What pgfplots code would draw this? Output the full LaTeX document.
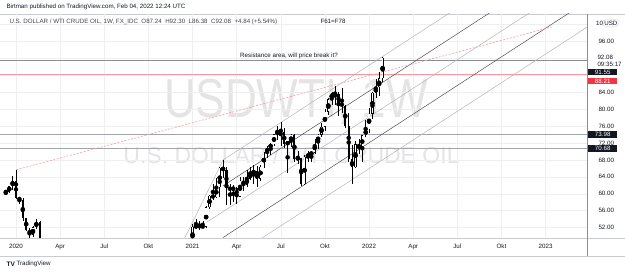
\documentclass[border=0pt]{standalone}
\usepackage{graphicx}
\usepackage{pgfplots}
\pgfplotsset{compat=1.18}
\usepackage{pgfplotstable}
\usepackage{fontspec}
\setmainfont{Liberation Sans}

\definecolor{tvgrid}{HTML}{EFEFEF}
\definecolor{tvborder}{HTML}{C8CBD3}
\definecolor{tvtext}{HTML}{131722}
\definecolor{tvred}{HTML}{F23645}
\definecolor{lvlred}{HTML}{F49AA2}
\definecolor{lvlgrey}{HTML}{8A8D95}
\definecolor{chlight}{HTML}{B4B4B4}
\definecolor{chdark}{HTML}{505050}
\definecolor{wmark}{HTML}{E4E4E4}

% weekly candles, n = week index (0 = week of 6 Jan 2020)
\pgfplotstableread{
n o h l c
-3 60.07 61.00 59.90 60.44
-2 60.44 61.90 60.30 61.72
-1 61.72 64.09 60.90 63.05
0 63.05 65.65 58.80 59.04
1 59.04 59.30 57.70 58.54
2 58.54 58.90 53.50 54.19
3 54.19 54.30 51.30 51.56
4 51.56 52.00 49.31 50.32
5 50.32 52.30 49.70 52.05
6 52.05 54.00 51.70 53.38
7 53.38 53.60 44.00 44.76
52 48.40 52.75 47.18 52.24
53 52.24 53.93 51.78 52.36
54 52.36 53.60 51.44 52.27
55 52.27 53.50 51.85 52.20
56 52.20 57.00 51.90 56.85
57 56.85 59.80 56.50 59.47
58 59.47 62.26 58.60 59.24
59 59.24 63.80 59.10 61.50
60 61.50 66.40 59.20 66.09
61 66.09 67.98 63.80 65.61
62 65.61 66.40 57.30 61.42
63 61.42 62.30 57.30 60.97
64 60.97 62.00 58.00 61.45
65 61.45 61.70 57.60 59.32
66 59.32 64.00 59.30 63.13
67 63.13 63.90 60.70 62.14
68 62.14 65.50 61.50 63.58
69 63.58 66.40 63.20 64.90
70 64.90 66.70 62.40 65.37
71 65.37 66.50 61.60 63.58
72 63.58 66.80 62.90 66.32
73 66.32 69.80 66.00 69.62
74 69.62 71.20 68.50 70.91
75 70.91 72.00 69.20 71.64
76 71.64 74.20 71.30 74.05
77 74.05 76.00 72.60 75.16
78 75.16 76.98 71.20 74.56
79 74.56 75.50 70.80 71.81
80 71.81 72.20 65.00 72.07
81 72.07 74.00 71.00 73.95
82 73.95 74.20 67.60 68.28
83 68.28 70.00 67.00 68.44
84 68.44 68.50 61.74 62.32
85 62.32 69.20 62.00 68.74
86 68.74 70.00 67.60 69.29
87 69.29 70.00 67.50 69.72
88 69.72 73.00 69.50 71.97
89 71.97 74.20 70.50 73.98
90 73.98 76.70 73.50 75.88
91 75.88 80.10 74.90 79.35
92 79.35 82.50 78.60 82.28
93 82.28 84.00 81.00 83.76
94 83.76 85.41 81.00 83.57
95 83.57 84.00 78.30 81.27
96 81.27 84.90 79.00 80.79
97 80.79 81.00 75.50 76.10
98 76.10 79.00 67.40 68.15
99 68.15 71.60 62.40 66.26
100 66.26 72.50 66.20 71.67
101 71.67 72.90 69.30 70.86
102 70.86 73.90 67.60 73.79
103 73.79 77.30 73.30 75.21
104 75.21 80.20 74.30 78.90
105 78.90 84.00 77.60 83.82
106 83.82 87.00 82.70 85.14
107 85.14 88.80 83.00 87.24
108 87.24 92.30 86.38 92.08
}\ohlc

% candle pieces: a body is parked at 0 (outside the pane) when it belongs to the other kind
\pgfplotsset{
  candlepart/.style={only marks, mark=none, forget plot,
    error bars/.cd, y dir=both, y explicit, error mark=none,
    error bar style={line cap=butt, #1}},
}

\begin{document}
\begin{tikzpicture}[font=\fontsize{6.2}{7}\selectfont]
\useasboundingbox (0,0) rectangle (625pt,271pt);

% symbol watermark behind the pane
\node[text=wmark, font=\fontsize{55}{56}\selectfont] at (296pt,169pt) {\scalebox{0.8}[1]{USDWTI, 1W}};
\node[text=wmark, font=\fontsize{23}{24}\selectfont] at (291.5pt,116pt) {U.S. DOLLAR / WTI CRUDE OIL};

% pane frame and scale separators
\draw[tvborder, line width=0.5pt] (0,257pt) -- (625pt,257pt);
\draw[tvborder, line width=0.6pt] (0,33pt) -- (625pt,33pt);
\draw[tvborder, line width=0.4pt] (0,15pt) -- (625pt,15pt);
\draw[lvlgrey, line width=0.6pt] (587pt,15pt) -- (587pt,257pt);

\begin{axis}[
  at={(0pt,33pt)}, anchor=south west,
  scale only axis, width=587pt, height=224pt,
  xmin=-4.713, xmax=168.2, ymin=49.56, ymax=102.44,
  axis line style={draw=none},
  tick style={draw=none},
  xtick={0,13,26,39,52,65,78,91,104,117,130,143,156},
  xticklabels={2020,Apr,Jul,Okt,2021,Apr,Jul,Okt,2022,Apr,Jul,Okt,2023},
  ytick={52,56,...,100},
  yticklabels={52.00,56.00,60.00,64.00,68.00,72.00,76.00,80.00,84.00,,,96.00,},
  yticklabel pos=right,
  grid=major, major grid style={tvgrid, line width=0.5pt},
  ticklabel style={font=\fontsize{6.2}{7}\selectfont, text=tvtext},
  yticklabel style={anchor=west, xshift=8pt},
  xticklabel style={yshift=-2.5pt},
  clip=true,
]
% horizontal levels
\addplot[lvlred, line width=0.7pt] coordinates {(-4.713,88.21) (168.2,88.21)};
\addplot[lvlgrey, line width=0.8pt] coordinates {(-4.713,91.55) (168.2,91.55)};
\addplot[lvlgrey!80, line width=1.2pt] coordinates {(-4.713,73.98) (168.2,73.98)};
\addplot[lvlgrey!80, line width=1.2pt] coordinates {(-4.713,70.68) (168.2,70.68)};

% rising channel lines
\addplot[chlight, line width=0.5pt] coordinates {(49.5,49.2) (61,67.98)};
\addplot[chlight, line width=0.5pt] coordinates {(61,67.98) (170,124.66)};
\addplot[chdark, line width=0.5pt] coordinates {(61,61.88) (170,118.56)};
\addplot[chlight, line width=0.5pt] coordinates {(56,53.18) (170,112.46)};
\addplot[chdark, line width=0.5pt] coordinates {(61,49.68) (170,106.36)};
\addplot[chlight, line width=0.5pt] coordinates {(61,43.58) (170,100.26)};

% dashed line from the January 2020 high
\addplot[lvlred, line width=0.6pt, dash pattern=on 2pt off 1.5pt] coordinates {(0,65.65) (157.9,99.4)};

% wicks
\addplot[candlepart={draw=black, line width=0.42pt}]
  table[x=n, y expr=(\thisrow{h}+\thisrow{l})/2, y error expr=(\thisrow{h}-\thisrow{l})/2]{\ohlc};
% falling bodies (filled)
\addplot[candlepart={draw=black, line width=2.1pt}]
  table[x=n, y expr={\thisrow{c}<\thisrow{o} ? (\thisrow{o}+\thisrow{c})/2 : 0},
        y error expr={max(abs(\thisrow{c}-\thisrow{o})/2,0.12)}]{\ohlc};
% rising bodies (hollow)
\addplot[candlepart={draw=black, line width=2.1pt}]
  table[x=n, y expr={\thisrow{c}<\thisrow{o} ? 0 : (\thisrow{o}+\thisrow{c})/2},
        y error expr={max(abs(\thisrow{c}-\thisrow{o})/2,0.12)}]{\ohlc};
\addplot[candlepart={draw=white, line width=1.3pt}]
  table[x=n, y expr={\thisrow{c}<\thisrow{o} ? 0 : (\thisrow{o}+\thisrow{c})/2},
        y error expr={max(abs(\thisrow{c}-\thisrow{o})/2-0.1,0)}]{\ohlc};
\end{axis}

% price scale labels
\node[anchor=west, text=tvtext, inner sep=0pt] at (596pt,248pt) {10};
\node[fill=white, draw=tvborder, rounded corners=1.5pt, inner sep=1.1pt, text=tvtext, anchor=west] at (603pt,248pt) {USD};
\node[anchor=west, text=tvtext] at (594pt,214pt) {92.08};
\node[anchor=west, text=tvtext] at (594pt,207pt) {09:35:17};
\node[fill=tvtext, text=white, inner sep=1.2pt, minimum width=29pt, anchor=west] at (588pt,199pt) {91.55};
\node[fill=tvred, text=white, inner sep=1.2pt, minimum width=29pt, anchor=west] at (588pt,190pt) {88.21};
\node[fill=tvtext, text=white, inner sep=1.2pt, minimum width=29pt, anchor=west] at (588pt,136.7pt) {73.98};
\node[fill=tvtext, text=white, inner sep=1.2pt, minimum width=29pt, anchor=west] at (588pt,122.7pt) {70.68};

% header texts
\node[anchor=west, text=tvtext] at (3pt,264pt) {Birtman published on TradingView.com, Feb 04, 2022 12:24 UTC};
\node[anchor=west, text=tvtext!80] at (6pt,249pt) {U.S. DOLLAR / WTI CRUDE OIL, 1W, FX\_IDC\ \ O87.24\ \ H92.30\ \ L86.38\ \ C92.08\ \ +4.84 (+5.54\%)};
\node[text=tvtext] at (333pt,250pt) {F61=F78};
\node[text=tvtext] at (289pt,215pt) {Resistance area, will price break it?};

% footer logo
\node[anchor=west, text=tvtext, font=\fontsize{6.5}{7}\selectfont\bfseries] at (3pt,7pt) {TV};
\node[anchor=west, text=tvtext] at (13pt,7pt) {TradingView};
\end{tikzpicture}
\end{document}
